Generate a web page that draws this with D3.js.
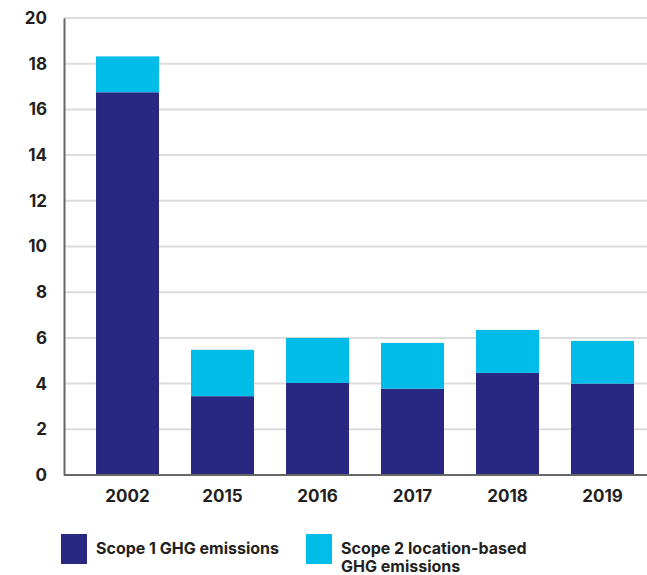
<!DOCTYPE html>
<html>
<head>
<meta charset="utf-8">
<script src="https://cdn.jsdelivr.net/npm/d3@7"></script>
<style>
  body { margin: 0; background: #fff; }
  svg text { font-family: "Inter", "Open Sans", sans-serif; fill: #231f20; }
</style>
</head>
<body>
<div id="chart"></div>
<script>
var years = ["2002", "2015", "2016", "2017", "2018", "2019"];
var scope1 = [16.75, 3.45, 4.03, 3.78, 4.47, 4.0];
var scope2 = [1.57, 2.03, 1.97, 2.0, 1.88, 1.87];
var yTicks = [0, 2, 4, 6, 8, 10, 12, 14, 16, 18, 20];
var legendLabels = [["Scope 1 GHG emissions"], ["Scope 2 location-based", "GHG emissions"]];

var colors = ["#282882", "#00bce8"];

var W = 647, H = 575;
var margin = {top: 18, left: 64, bottom: 475};

var data = years.map(function(y, i) {
    return {year: y, s1: scope1[i], s2: scope2[i]};
});
var stack = d3.stack().keys(["s1", "s2"]);
var series = stack(data);

var x = d3.scaleBand()
        .domain(years)
        .range([margin.left, margin.left + 95 * 6.337])
        .paddingInner(0.337)
        .paddingOuter(0.337);

var y = d3.scaleLinear()
        .domain([0, 20])
        .range([margin.bottom, margin.top]);

var svg = d3.select("#chart").append("svg")
        .attr("width", W)
        .attr("height", H);

// gridlines
svg.append("g")
    .selectAll("line")
    .data(yTicks.filter(function(d) { return d > 0; }))
    .enter().append("line")
        .attr("x1", margin.left)
        .attr("x2", W)
        .attr("y1", function(d) { return y(d); })
        .attr("y2", function(d) { return y(d); })
        .attr("stroke", "#dcdcdc")
        .attr("stroke-width", 2);

// bars
svg.append("g")
    .selectAll("g")
    .data(series)
    .enter().append("g")
        .attr("fill", function(d, i) { return colors[i]; })
    .selectAll("rect")
    .data(function(d) { return d; })
    .enter().append("rect")
        .attr("x", function(d) { return x(d.data.year); })
        .attr("width", x.bandwidth())
        .attr("y", function(d) { return y(d[1]); })
        .attr("height", function(d) { return y(d[0]) - y(d[1]); });

// y axis
var yAxis = d3.axisLeft(y).tickValues(yTicks).tickSize(0).tickPadding(17);
var gy = svg.append("g")
    .attr("transform", "translate(" + margin.left + ",0)")
    .call(yAxis);
gy.select(".domain").attr("stroke", "#666").attr("stroke-width", 2);
gy.selectAll("text")
    .style("font-size", "17px")
    .style("font-weight", 700);

// x axis
var xAxis = d3.axisBottom(x).tickSize(0).tickPadding(15);
var gx = svg.append("g")
    .attr("transform", "translate(0," + margin.bottom + ")")
    .call(xAxis);
gx.select(".domain")
    .attr("d", "M" + margin.left + ",0H" + W)
    .attr("stroke", "#666").attr("stroke-width", 2);
gx.selectAll("text")
    .style("font-size", "17px")
    .style("font-weight", 700);

// legend
var legendX = [61, 306];
var lg = svg.append("g")
    .selectAll("g")
    .data(legendLabels)
    .enter().append("g")
        .attr("transform", function(d, i) { return "translate(" + legendX[i] + ",534)"; });
lg.append("rect")
    .attr("width", 26)
    .attr("height", 30)
    .attr("fill", function(d, i) { return colors[i]; });
lg.append("text")
    .attr("x", 35)
    .attr("y", 20)
    .style("font-size", "16px")
    .style("font-weight", 700)
    .selectAll("tspan")
    .data(function(d) { return d; })
    .enter().append("tspan")
        .attr("x", 35)
        .attr("dy", function(d, i) { return i === 0 ? 0 : 18; })
        .text(function(d) { return d; });
</script>
</body>
</html>
